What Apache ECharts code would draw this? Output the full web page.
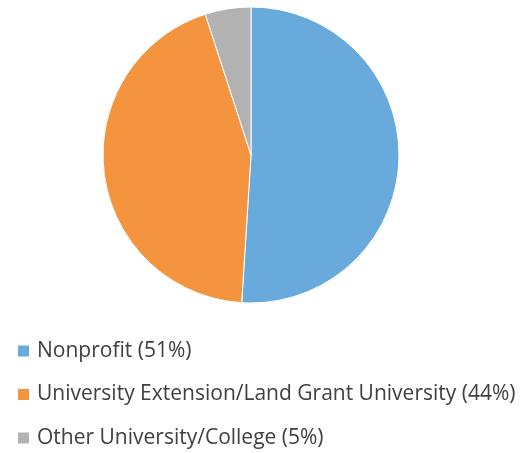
<!DOCTYPE html>
<html>
<head>
<meta charset="utf-8">
<script src="https://cdn.jsdelivr.net/npm/echarts@6/dist/echarts.min.js"></script>
<style>
  html, body { margin: 0; padding: 0; background: #fff; }
  #chart { width: 525px; height: 453px; }
</style>
</head>
<body>
<div id="chart"></div>
<script>
// Organization types and their shares (percent)
const categories = [
  'Nonprofit (51%)',
  'University Extension/Land Grant University (44%)',
  'Other University/College (5%)'
];
const shares = [51, 44, 5];
const colors = ['#69aadc', '#f4943f', '#b2b2b2'];

const chart = echarts.init(document.getElementById('chart'));
chart.setOption({
  animation: false,
  color: colors,
  legend: {
    orient: 'vertical',
    left: 16,
    top: 340,
    height: 113,
    padding: 0,
    itemWidth: 13,
    itemHeight: 13,
    itemGap: 21.5,
    icon: 'rect',
    textStyle: {
      fontFamily: 'Open Sans',
      fontSize: 21,
      lineHeight: 22,
      color: '#404040',
      padding: [0, 0, 0, 2]
    },
    data: categories
  },
  series: [{
    type: 'pie',
    center: [251, 155],
    radius: 148,
    startAngle: 90,
    clockwise: true,
    label: { show: false },
    labelLine: { show: false },
    itemStyle: { borderColor: '#ffffff', borderWidth: 1 },
    emphasis: { disabled: true },
    data: categories.map((name, i) => ({ name, value: shares[i] }))
  }]
});
</script>
</body>
</html>
